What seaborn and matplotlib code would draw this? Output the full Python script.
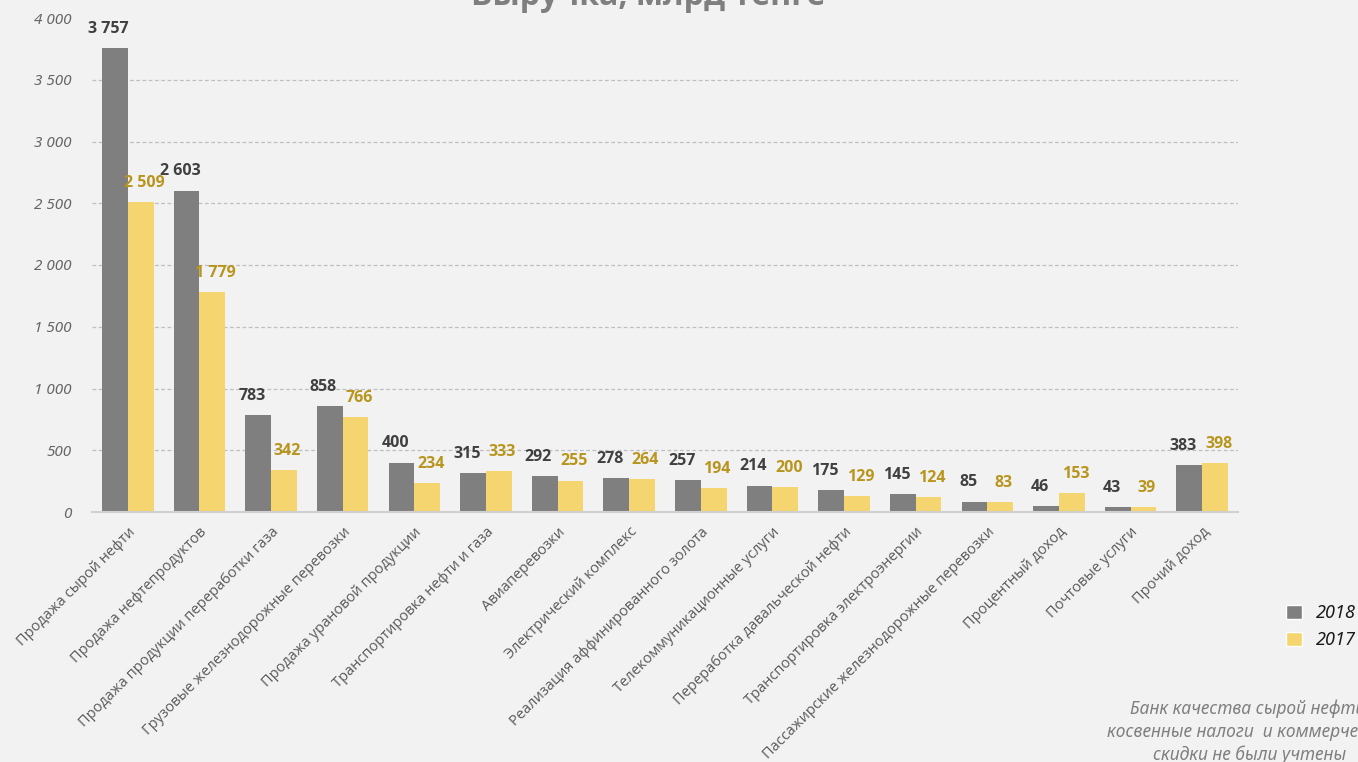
import numpy as np
import matplotlib.pyplot as plt
import pandas as pd
import seaborn as sns
from matplotlib.patches import Patch

# data
categories = ["Продажа сырой нефти", "Продажа нефтепродуктов",
              "Продажа продукции переработки газа", "Грузовые железнодорожные перевозки",
              "Продажа урановой продукции", "Транспортировка нефти и газа",
              "Авиаперевозки", "Электрический комплекс",
              "Реализация аффинированного золота", "Телекоммуникационные услуги",
              "Переработка давальческой нефти", "Транспортировка электроэнергии",
              "Пассажирские железнодорожные перевозки", "Процентный доход",
              "Почтовые услуги", "Прочий доход"]
values_2018 = [3757, 2603, 783, 858, 400, 315, 292, 278, 257, 214, 175, 145, 85, 46, 43, 383]
values_2017 = [2509, 1779, 342, 766, 234, 333, 255, 264, 194, 200, 129, 124, 83, 153, 39, 398]
years = ["2018", "2017"]

bg = "#f2f2f2"
gray = "#7f7f7f"
yellow = "#f5d56f"
italic_fam = ["Noto Sans", "DejaVu Sans"]

df = pd.DataFrame({
    "cat": categories * 2,
    "year": ["2018"] * len(categories) + ["2017"] * len(categories),
    "val": values_2018 + values_2017,
})

sns.set_style("white")
plt.rcParams["font.family"] = ["Open Sans", "DejaVu Sans"]

fig = plt.figure(figsize=(13.58, 7.62), dpi=100, facecolor=bg)
ax = fig.add_axes([92 / 1358, 1 - 512 / 762, (1238 - 92) / 1358, (512 - 18) / 762])
ax.set_facecolor(bg)

sns.barplot(data=df, x="cat", y="val", hue="year", hue_order=years,
            palette=[gray, yellow], width=0.72, saturation=1, ax=ax,
            edgecolor="none", legend=False)

ax.set_ylim(0, 4000)
ax.set_xlim(-0.5, len(categories) - 0.5)
ax.set_yticks(np.arange(0, 4001, 500))
ax.set_yticklabels([f"{v:,}".replace(",", " ") for v in range(0, 4001, 500)],
                   fontsize=11, style="italic", color="#666666", family=italic_fam)
ax.yaxis.grid(True, linestyle=(0, (3, 2)), color="#bfbfbf", linewidth=0.9)
ax.get_ygridlines()[-1].set_visible(False)
ax.get_ygridlines()[0].set_visible(False)
ax.set_axisbelow(True)
for s in ["top", "right", "left"]:
    ax.spines[s].set_visible(False)
ax.spines["bottom"].set_color("#d0d0d0")
ax.spines["bottom"].set_linewidth(1.5)
ax.tick_params(axis="both", length=0)
ax.tick_params(axis="y", pad=15)
ax.set_xlabel("")
ax.set_ylabel("")

ax.set_xticks(range(len(categories)))
ax.set_xticklabels(categories, rotation=45, ha="right", rotation_mode="anchor",
                   fontsize=10.5, color="#595959")
ax.tick_params(axis="x", pad=9)

# value labels; 2018 ones a bit to the left, 2017 ones a bit to the right
label_colors = ["#404040", "#b8961e"]
label_shift = [-4.5, 2.5]
for cont, col, dx in zip(ax.containers, label_colors, label_shift):
    anns = ax.bar_label(cont, labels=[f"{int(v.get_height()):,}".replace(",", " ") for v in cont],
                        padding=8, fontsize=11.5, fontweight="bold", color=col)
    for a in anns:
        a.xyann = (a.xyann[0] + dx, a.xyann[1])

fig.text(648 / 1358, 1 - 5 / 762, "Выручка, млрд тенге", ha="center", va="baseline",
         fontsize=23, fontweight="bold", color=gray)

handles = [Patch(facecolor=gray, label="2018"), Patch(facecolor=yellow, label="2017")]
leg = fig.legend(handles=handles, loc="upper left", bbox_to_anchor=(1270 / 1358, 1 - 588 / 762),
                 frameon=False, handlelength=0.85, handleheight=0.85, handletextpad=0.8,
                 labelspacing=0.5, prop={"size": 13, "style": "italic", "family": italic_fam})
for t in leg.get_texts():
    t.set_color("#1a1a1a")

fig.text(1250 / 1358, 1 - 700 / 762,
         "Банк качества сырой нефти,\nкосвенные налоги  и коммерческие\nскидки не были учтены",
         ha="center", va="top", fontsize=12.5, style="italic", color="#7f7f7f",
         linespacing=1.3, family=italic_fam)

fig.savefig("out.png", dpi=100, facecolor=bg)
